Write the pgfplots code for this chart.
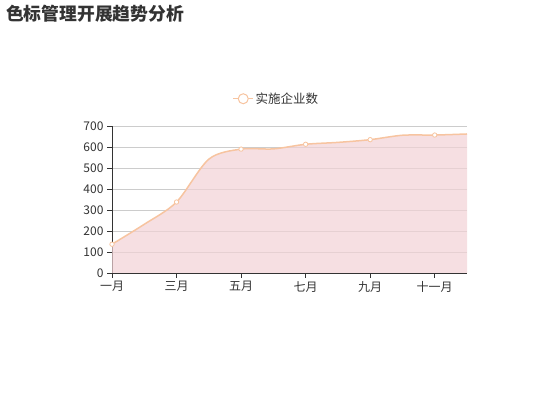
\documentclass[border=0pt]{standalone}
\usepackage{fontspec}
\setmainfont{Noto Sans CJK SC}
\usepackage{pgfplots}
\pgfplotsset{compat=1.18}
\definecolor{linec}{RGB}{247,196,160}
\definecolor{areac}{RGB}{242,210,213}
\definecolor{gridc}{RGB}{204,204,204}
\definecolor{axisc}{RGB}{51,51,51}
\begin{document}
\begin{tikzpicture}[x=1pt,y=1pt]
\useasboundingbox (0,0) rectangle (550,-420);
\node[anchor=west, font=\fontsize{17.8}{18}\selectfont\bfseries, text=axisc, inner sep=0] at (6,-14) {色标管理开展趋势分析};
\begin{axis}[
    at={(112pt,-273pt)}, anchor=south west,
    scale only axis, width=355pt, height=147pt,
    xmin=0, xmax=11, ymin=0, ymax=700,
    ytick={0,100,...,700},
    xtick={0,2,...,10},
    xticklabels={一月,三月,五月,七月,九月,十一月},
    axis lines=left,
    axis line style={-, axisc, line width=0.8pt},
    ymajorgrids,
    grid style={gridc, line width=0.6pt},
    tick style={axisc, line width=0.8pt},
    tick align=outside, major tick length=5pt,
    tick label style={font=\fontsize{12}{12}\selectfont, text=axisc},
    /pgf/number format/assume math mode=true,
    legend style={at={(0.5,1)}, anchor=south, yshift=17pt, xshift=-13pt,
        draw=none, fill=none, font=\fontsize{12.5}{12.5}\selectfont, text=axisc},
    legend image code/.code={
        \draw[linec, line width=1pt] (0pt,0pt) -- (20pt,0pt);
        \draw[linec, fill=white, line width=1pt] (10pt,0pt) circle (5pt);
    },
]
% 实施企业数
\addplot[smooth, tension=0.5, draw=none, fill=areac, fill opacity=0.7, forget plot] coordinates {
    (0,137) (1,232) (2,338) (3,542) (4,590) (5,591)
    (6,613) (7,622) (8,635) (9,656) (10,657) (11,662)
} \closedcycle;
\addplot[smooth, tension=0.5, draw=linec, line width=1.5pt,
    mark=*, mark repeat=2, mark size=2.2pt,
    mark options={fill=white, draw=linec, line width=0.8pt}] coordinates {
    (0,137) (1,232) (2,338) (3,542) (4,590) (5,591)
    (6,613) (7,622) (8,635) (9,656) (10,657) (11,662)
};
\legend{实施企业数}
\end{axis}
\end{tikzpicture}
\end{document}
